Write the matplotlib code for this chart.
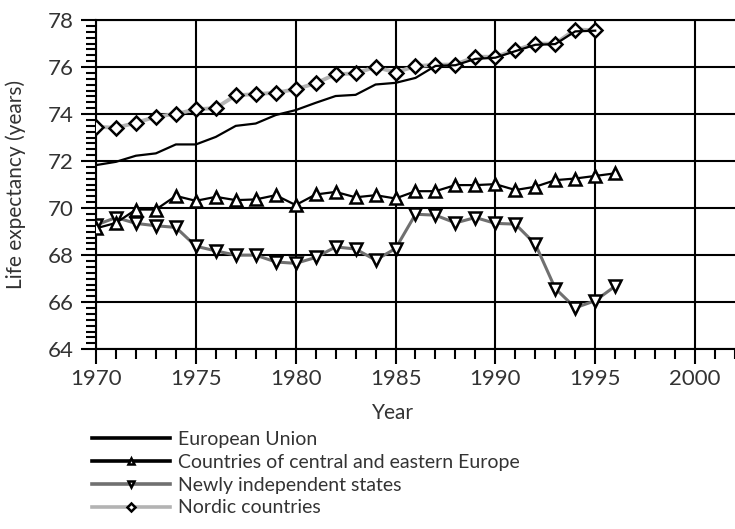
import matplotlib
matplotlib.use("Agg")
import matplotlib.pyplot as plt
from matplotlib.ticker import MultipleLocator

plt.rcParams["font.family"] = ["Lato", "DejaVu Sans"]

# ---------------------------------------------------------------------------
# Data
# ---------------------------------------------------------------------------
years_eu = list(range(1970, 1996))
eu = [71.83, 71.97, 72.23, 72.33, 72.71, 72.71, 73.03, 73.50, 73.60, 73.96,
      74.17, 74.48, 74.77, 74.82, 75.26, 75.33, 75.54, 76.05, 76.08, 76.35,
      76.40, 76.68, 76.95, 76.98, 77.52, 77.55]

years_cee = list(range(1970, 1997))
cee = [69.14, 69.37, 69.94, 69.94, 70.52, 70.31, 70.48, 70.34, 70.37, 70.55,
       70.13, 70.58, 70.69, 70.46, 70.55, 70.41, 70.72, 70.72, 70.98, 70.98,
       71.02, 70.77, 70.91, 71.19, 71.26, 71.37, 71.48]

years_nis = list(range(1970, 1997))
nis = [69.28, 69.60, 69.35, 69.25, 69.18, 68.38, 68.18, 68.00, 68.00, 67.71,
       67.65, 67.90, 68.35, 68.26, 67.79, 68.28, 69.74, 69.70, 69.37, 69.60,
       69.35, 69.32, 68.47, 66.58, 65.76, 66.06, 66.68]

years_nordic = list(range(1970, 1996))
nordic = [73.46, 73.42, 73.63, 73.89, 74.01, 74.20, 74.26, 74.80, 74.85, 74.91,
          75.06, 75.31, 75.70, 75.73, 76.01, 75.77, 76.04, 76.10, 76.11, 76.44,
          76.44, 76.72, 77.00, 77.00, 77.60, 77.57]

labels = ["European Union", "Countries of central and eastern Europe",
          "Newly independent states", "Nordic countries"]

TEXT = "#333333"

fig = plt.figure(figsize=(7.35, 5.29), dpi=100)
ax = fig.add_axes([0.1306, 0.340, 0.8694, 0.622])

mk = dict(markersize=9, markerfacecolor="white", markeredgecolor="black",
          markeredgewidth=1.8)

h_nordic, = ax.plot(years_nordic, nordic, color="#b3b3b3", lw=2.8,
                    marker="D", zorder=3, **{**mk, "markersize": 7.5})
h_eu, = ax.plot(years_eu, eu, color="black", lw=1.6, zorder=4)
h_nis, = ax.plot(years_nis, nis, color="#707070", lw=2.2,
                 marker="v", zorder=3, **mk)
h_cee, = ax.plot(years_cee, cee, color="black", lw=1.6,
                 marker="^", zorder=4, **mk)

ax.set_xlim(1970, 2002)
ax.set_ylim(64, 78)
ax.xaxis.set_major_locator(MultipleLocator(5))
ax.xaxis.set_minor_locator(MultipleLocator(1))
ax.yaxis.set_major_locator(MultipleLocator(2))
ax.yaxis.set_minor_locator(MultipleLocator(0.25))

ax.grid(True, which="major", color="black", lw=1.5)
ax.set_axisbelow(True)
ax.spines["right"].set_visible(False)
for side in ("left", "bottom", "top"):
    ax.spines[side].set_linewidth(1.5)

ax.tick_params(which="major", length=11, width=1.5, colors="black",
               labelcolor=TEXT, labelsize=16)
ax.tick_params(which="minor", length=7, width=1.5, colors="black")
ax.tick_params(axis="y", which="major", pad=5)
ax.tick_params(axis="x", which="major", pad=3)

ax.set_xlabel("Year", fontsize=15, color=TEXT)
ax.xaxis.set_label_coords(0.464, -0.165)
ax.set_ylabel("Life expectancy (years)", fontsize=15, color=TEXT)
ax.yaxis.set_label_coords(-0.11, 0.5)

leg = fig.legend([h_eu, h_cee, h_nis, h_nordic], labels,
                 loc="upper left", bbox_to_anchor=(0.115, 0.2),
                 frameon=False, fontsize=14, markerscale=0.55,
                 handlelength=4.0, handletextpad=0.4, labelspacing=0.3,
                 borderaxespad=0)
for t in leg.get_texts():
    t.set_color(TEXT)
for ln in leg.get_lines():
    ln.set_linewidth(2.6)

fig.savefig("out.png", dpi=100)
